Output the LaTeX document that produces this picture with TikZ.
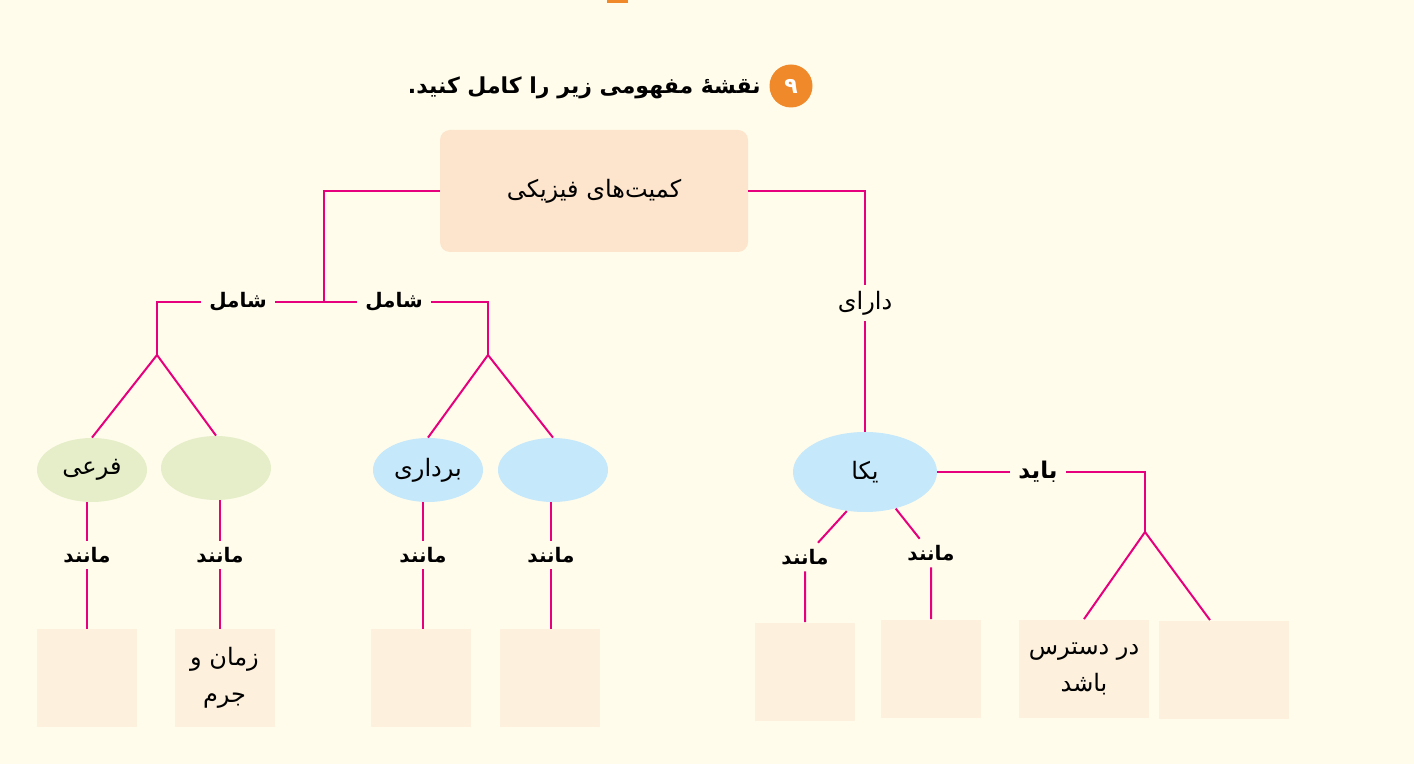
\documentclass[tikz,border=0pt]{standalone}
\usepackage{fontspec}
\usepackage{tikz}
\usetikzlibrary{shapes,positioning,calc}
\TeXXeTstate=1
\newfontfamily\arabicfont[Script=Arabic]{DejaVu Sans}
\definecolor{bgcream}{RGB}{255,252,235}
\definecolor{cmpink}{RGB}{230,0,126}
\definecolor{cmpeach}{RGB}{253,228,204}
\definecolor{cmgreen}{RGB}{229,238,200}
\definecolor{cmblue}{RGB}{197,232,250}
\definecolor{cmsand}{RGB}{253,240,220}
\definecolor{cmorange}{RGB}{240,137,42}
\tikzstyle{link} = [line width=1pt, color=cmpink]
\tikzstyle{topbox} = [rectangle, rounded corners=5pt, minimum width=154pt, minimum height=61pt, fill=cmpeach, font=\arabicfont\fontsize{12}{14}\selectfont]
\tikzstyle{kind} = [ellipse, minimum width=55pt, minimum height=32pt, inner sep=0pt, font=\arabicfont\fontsize{12}{14}\selectfont]
\tikzstyle{answer} = [rectangle, minimum width=50pt, minimum height=49pt, fill=cmsand, align=center, font=\arabicfont\fontsize{12}{18.5}\selectfont]
\tikzstyle{word} = [inner xsep=4pt, inner ysep=3pt, font=\arabicfont\bfseries\fontsize{10}{12}\selectfont]
\tikzstyle{badge} = [circle, minimum size=21.5pt, inner sep=0pt, fill=cmorange, text=white, font=\arabicfont\bfseries\fontsize{11}{13}\selectfont]
\tikzstyle{heading} = [inner sep=2pt, font=\arabicfont\bfseries\fontsize{11}{13}\selectfont]

\begin{document}
\begin{tikzpicture}[x=0.5pt, y=-0.5pt]
    % Background
    \fill[bgcream] (0,0) rectangle (1414,764);
    \useasboundingbox (0,0) rectangle (1414,764);
    \fill[cmorange] (607,0) rectangle (628,3);

    % Title
    \node[badge] (num) at (791,86) {\beginR ۹\endR};
    \node[heading, left=2pt of num, yshift=-1pt] (ask) {\beginR نقشهٔ مفهومی زیر را کامل کنید.\endR};

    % Nodes
    \node[topbox] (phys) at (594,191) {\beginR کمیت‌های فیزیکی\endR};
    \node[kind, fill=cmgreen] (derived) at (92,470) {\beginR فرعی\endR};
    \node[kind, fill=cmgreen] (base) at (216,468) {};
    \node[kind, fill=cmblue] (vector) at (428,470) {\beginR برداری\endR};
    \node[kind, fill=cmblue] (scalar) at (553,470) {};
    \node[kind, fill=cmblue, minimum width=72pt, minimum height=40pt] (unit) at (865,472) {\beginR یکا\endR};

    % Answer boxes
    \node[answer] (ex1) at (86.5,678) {};
    \node[answer] (ex2) at (224.5,678) {\beginR زمان و\endR\\\beginR جرم\endR};
    \node[answer] (ex3) at (420.5,678) {};
    \node[answer] (ex4) at (549.5,678) {};
    \node[answer] (ex5) at (805,671.5) {};
    \node[answer] (ex6) at (931,668.5) {};
    \node[answer, minimum width=65pt] (need1) at (1084,668.5) {\beginR در دسترس\endR\\\beginR باشد\endR};
    \node[answer, minimum width=65pt] (need2) at (1224,669.5) {};

    % Link labels
    \node[word] (incl1) at (238,302) {\beginR شامل\endR};
    \node[word] (incl2) at (394,302) {\beginR شامل\endR};
    \node[word, font=\arabicfont\fontsize{12}{14}\selectfont] (has) at (865,303) {\beginR دارای\endR};
    \node[word, font=\arabicfont\bfseries\fontsize{11.5}{14}\selectfont] (must) at (1038,472) {\beginR باید\endR};
    \node[word] (like1) at (87,555) {\beginR مانند\endR};
    \node[word] (like2) at (220,555) {\beginR مانند\endR};
    \node[word] (like3) at (423,555) {\beginR مانند\endR};
    \node[word] (like4) at (551,555) {\beginR مانند\endR};
    \node[word] (like5) at (805,557) {\beginR مانند\endR};
    \node[word] (like6) at (931,553) {\beginR مانند\endR};

    % Joints
    \coordinate (jl) at (324,302);
    \coordinate (cl1) at (157,302);
    \coordinate (fl1) at (157,355);
    \coordinate (cl2) at (488,302);
    \coordinate (fl2) at (488,355);
    \coordinate (jr) at (1145,472);
    \coordinate (fr) at (1145,532);

    % Lines
    \draw[link] (phys.west) -| (jl);
    \draw[link] (jl) -- (incl1) -- (cl1) -- (fl1);
    \draw[link] (jl) -- (incl2) -- (cl2) -- (fl2);
    \draw[link] (fl1) -- (derived.north);
    \draw[link] (fl1) -- (base.north);
    \draw[link] (fl2) -- (vector.north);
    \draw[link] (fl2) -- (scalar.north);
    \draw[link] (like1 |- derived.south) -- (like1) -- (like1 |- ex1.north);
    \draw[link] (like2 |- base.south) -- (like2) -- (like2 |- ex2.north);
    \draw[link] (like3 |- vector.south) -- (like3) -- (like3 |- ex3.north);
    \draw[link] (like4 |- scalar.south) -- (like4) -- (like4 |- ex4.north);
    \draw[link] (phys.east) -| (has);
    \draw[link] (has) -- (unit.north);
    \draw[link] (unit.245) -- (like5) -- (like5 |- ex5.north);
    \draw[link] (unit.310) -- (like6) -- (like6 |- ex6.north);
    \draw[link] (unit.east) -- (must) -- (jr) -- (fr);
    \draw[link] (fr) -- (need1.north);
    \draw[link] (fr) -- ($(need2.north)+(-14,0)$);
\end{tikzpicture}
\end{document}
